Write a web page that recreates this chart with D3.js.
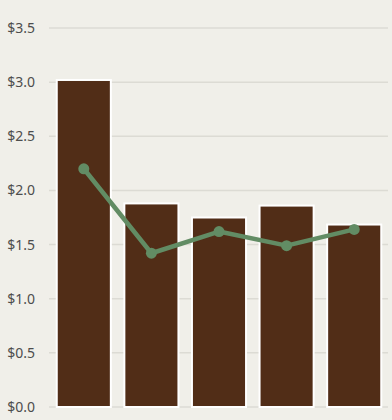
<!DOCTYPE html>
<html>
<head>
<meta charset="utf-8">
<script src="https://cdn.jsdelivr.net/npm/d3@7"></script>
<style>
  html, body { margin: 0; padding: 0; background: #f0efe9; }
  svg { display: block; }
</style>
</head>
<body>
<svg id="chart" width="392" height="420"></svg>
<script>
const categories = ["1", "2", "3", "4", "5"];
const barValues = [3.02, 1.88, 1.75, 1.86, 1.685];
const lineValues = [2.20, 1.42, 1.62, 1.49, 1.64];
const yTicks = [0, 0.5, 1.0, 1.5, 2.0, 2.5, 3.0, 3.5];

const svg = d3.select("#chart");
const W = 392, H = 420;

svg.append("rect").attr("width", W).attr("height", H).attr("fill", "#f0efe9");

const x = d3.scaleBand().domain(categories).range([50, 388]).paddingInner(0.2).paddingOuter(0.1);
const y = d3.scaleLinear().domain([0, 3.5]).range([407, 28]);

// gridlines
svg.append("g").selectAll("line").data(yTicks).join("line")
  .attr("x1", 49).attr("x2", 388)
  .attr("y1", d => y(d)).attr("y2", d => y(d))
  .attr("stroke", "#dcdbd4").attr("stroke-width", 1.5);

// y axis labels
const yAxis = d3.axisLeft(y).tickValues(yTicks).tickSize(0).tickPadding(0)
  .tickFormat(d => "$" + d3.format(".1f")(d));
const ga = svg.append("g").attr("transform", "translate(35,0)").call(yAxis);
ga.select(".domain").remove();
ga.selectAll("text")
  .attr("fill", "#4d4d4d")
  .style("font-family", "'Noto Sans', sans-serif")
  .style("font-size", "14px");

// bars
svg.append("g").selectAll("rect").data(barValues).join("rect")
  .attr("x", (d, i) => x(categories[i]))
  .attr("width", x.bandwidth())
  .attr("y", d => y(d))
  .attr("height", d => y(0) - y(d))
  .attr("fill", "#512d17")
  .attr("stroke", "#ffffff")
  .attr("stroke-width", 2);

// line
const line = d3.line()
  .x((d, i) => x(categories[i]) + x.bandwidth() / 2)
  .y(d => y(d));
svg.append("path").datum(lineValues)
  .attr("d", line)
  .attr("fill", "none")
  .attr("stroke", "#628c64")
  .attr("stroke-width", 4.5)
  .attr("stroke-linejoin", "round");

svg.append("g").selectAll("circle").data(lineValues).join("circle")
  .attr("cx", (d, i) => x(categories[i]) + x.bandwidth() / 2)
  .attr("cy", d => y(d))
  .attr("r", 5.5)
  .attr("fill", "#628c64");
</script>
</body>
</html>
